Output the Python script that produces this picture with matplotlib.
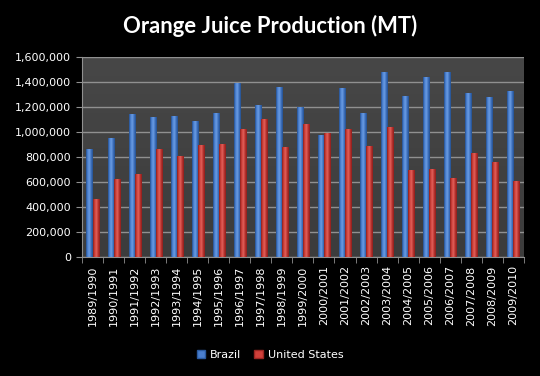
import numpy as np
import matplotlib as mpl
mpl.use('Agg')
import matplotlib.pyplot as plt
from matplotlib.colors import LinearSegmentedColormap
from matplotlib.ticker import FuncFormatter

seasons = ["1989/1990", "1990/1991", "1991/1992", "1992/1993", "1993/1994",
           "1994/1995", "1995/1996", "1996/1997", "1997/1998", "1998/1999",
           "1999/2000", "2000/2001", "2001/2002", "2002/2003", "2003/2004",
           "2004/2005", "2005/2006", "2006/2007", "2007/2008", "2008/2009",
           "2009/2010"]
brazil = [867000, 955000, 1147000, 1123000, 1131000, 1091000, 1155000,
          1392000, 1216000, 1362000, 1200000, 979000, 1355000, 1155000,
          1483000, 1291000, 1443000, 1483000, 1315000, 1283000, 1331000]
usa = [467000, 627000, 667000, 861000, 811000, 899000, 907000, 1027000,
       1107000, 883000, 1067000, 995000, 1027000, 891000, 1043000, 699000,
       707000, 635000, 835000, 763000, 611000]

blue_cm = LinearSegmentedColormap.from_list("b", ["#24508f", "#4f86d6", "#6a9be0", "#3d70bd", "#24508f"])
red_cm = LinearSegmentedColormap.from_list("r", ["#8c1f1c", "#d0403a", "#e0605a", "#b8322e", "#8c1f1c"])

fig = plt.figure(figsize=(5.4, 3.76), dpi=100, facecolor="black")
ax = fig.add_axes([0.152, 0.3165, 0.818, 0.5315])

# plot area gradient
bg = np.linspace(0, 1, 100).reshape(-1, 1)
bg_cm = LinearSegmentedColormap.from_list("bg", ["#3c3c3c", "#474747"])
ax.imshow(bg, cmap=bg_cm, aspect="auto", extent=[-0.5, len(seasons) - 0.5, 0, 1600000],
          origin="lower", zorder=0)

x = np.arange(len(seasons))
w = 0.29
grad = np.linspace(0, 1, 50).reshape(1, -1)
for series, off, cm in [(brazil, -w / 2, blue_cm), (usa, w / 2, red_cm)]:
    bars = ax.bar(x + off, series, width=w, color=cm(0.5), linewidth=0, zorder=2)
    for b in bars:
        x0, y0 = b.get_x(), b.get_y()
        im = ax.imshow(grad, cmap=cm, aspect="auto",
                       extent=[x0, x0 + b.get_width(), y0, y0 + b.get_height()], zorder=3)
        im.set_clip_path(b)

ax.set_xlim(-0.5, len(seasons) - 0.5)
ax.set_ylim(0, 1600000)
ax.set_yticks(range(0, 1600001, 200000))
ax.yaxis.set_major_formatter(FuncFormatter(lambda v, p: "{:,.0f}".format(v)))
ax.grid(axis="y", color="#909090", linewidth=1, zorder=1)
ax.set_axisbelow(True)

ax.set_xticks(x)
ax.set_xticklabels(seasons, rotation=90)
ax.set_xticks(np.arange(-0.5, len(seasons)), minor=True)
ax.tick_params(axis="x", which="major", length=0, pad=6, colors="white", labelsize=8)
ax.tick_params(axis="x", which="minor", length=4, color="#909090")
ax.tick_params(axis="y", length=4, color="#909090", colors="white", labelsize=8, pad=4)
for s in ["top", "right"]:
    ax.spines[s].set_visible(False)
for s in ["left", "bottom"]:
    ax.spines[s].set_color("#909090")

fig.text(0.5, 0.93, "Orange Juice Production (MT)", ha="center", va="center",
         color="white", fontsize=15.8, fontweight="bold", family="Lato")

h1 = plt.Rectangle((0, 0), 1, 1, fc="#4a7fcf", ec="#2a5aa0")
h2 = plt.Rectangle((0, 0), 1, 1, fc="#d0403a", ec="#9a2622")
leg = fig.legend([h1, h2], ["Brazil", "United States"], loc="center",
                 bbox_to_anchor=(0.5, 0.056), ncol=2, frameon=False,
                 fontsize=8, handlelength=0.8, handleheight=0.8,
                 handletextpad=0.4, columnspacing=1.2)
for t in leg.get_texts():
    t.set_color("white")

fig.savefig("out.png", dpi=100, facecolor="black")
